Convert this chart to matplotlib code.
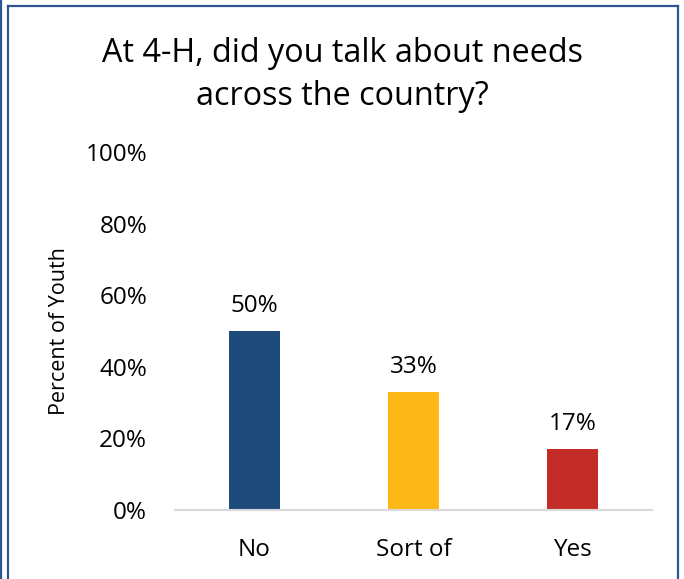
import matplotlib
matplotlib.use("Agg")
import matplotlib.pyplot as plt
from matplotlib.lines import Line2D

categories = ["No", "Sort of", "Yes"]
values = [50, 33, 17]
labels = ["50%", "33%", "17%"]
colors = ["#1F4A7C", "#FDB817", "#C42D27"]
yticks = [0, 20, 40, 60, 80, 100]
ytick_labels = ["0%", "20%", "40%", "60%", "80%", "100%"]

plt.rcParams['font.family'] = ['Open Sans', 'DejaVu Sans']

W, H = 684, 579
fig = plt.figure(figsize=(W/100, H/100), dpi=100)
ax = fig.add_axes([175/W, 1-510/H, 477/W, 358/H])

x = range(len(categories))
ax.bar(x, values, width=0.315, color=colors)
for xi, v, lab in zip(x, values, labels):
    ax.text(xi, v + 5.3, lab, ha='center', va='baseline', fontsize=17.5, color='black')

ax.set_xlim(-0.5, 2.5)
ax.set_ylim(0, 100)
ax.set_yticks(yticks)
ax.set_yticklabels(ytick_labels, fontsize=17.5)
ax.set_xticks(list(x))
ax.set_xticklabels(categories, fontsize=17.5)
ax.tick_params(axis='both', length=0)
ax.tick_params(axis='x', pad=20)
ax.tick_params(axis='y', pad=20)
for s in ['top', 'right', 'left']:
    ax.spines[s].set_visible(False)
ax.spines['bottom'].set_color('#D9D9D9')
ax.spines['bottom'].set_linewidth(1.5)
ax.set_ylabel("Percent of Youth", fontsize=15.5, labelpad=11)

fig.text(0.5, 1-75/H, "At 4-H, did you talk about needs\nacross the country?",
         ha='center', va='center', fontsize=23.3, linespacing=1.4)

bc = '#2F5597'
tf = fig.transFigure
def px(xp, yp):
    return xp/W, 1-yp/H
for (x0, y0), (x1, y1) in [((8, 6), (678, 6)), ((8, 6), (8, 590)), ((678, 6), (678, 590)),
                           ((0.8, 0), (0.8, 590))]:
    a, b = px(x0, y0)
    c, d = px(x1, y1)
    fig.add_artist(Line2D([a, c], [b, d], transform=tf, color=bc, linewidth=1.6))

fig.savefig("out.png", dpi=100)
